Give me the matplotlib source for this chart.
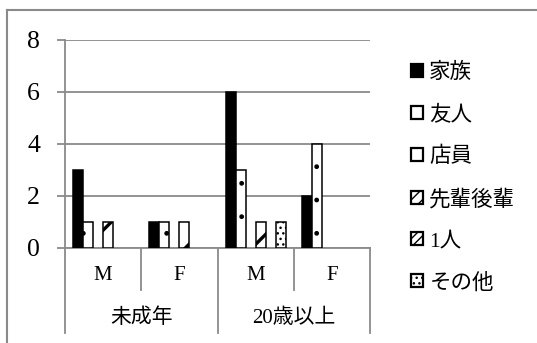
import matplotlib
matplotlib.use("Agg")
import matplotlib.pyplot as plt
from matplotlib.lines import Line2D
from matplotlib.patches import Patch
from matplotlib.transforms import blended_transform_factory
import numpy as np

# ---- data -------------------------------------------------------------
age_groups = ["未成年", "20歳以上"]
sexes = ["M", "F", "M", "F"]
series_names = ["家族", "友人", "店員", "先輩後輩", "1人", "その他"]
family = [3, 1, 6, 2]
friend = [1, 1, 3, 4]
clerk = [0, 0, 0, 0]
senpai_kohai = [1, 1, 1, 0]
alone = [0, 0, 0, 0]
other = [0, 0, 1, 0]
y_ticks = [0, 2, 4, 6, 8]

series_values = [family, friend, clerk, senpai_kohai, alone, other]

# ---- style ------------------------------------------------------------
GRAY = "#8a8a8a"
SERIF = ["Liberation Serif", "Noto Sans CJK JP"]
CJK = ["Liberation Serif", "Noto Sans CJK JP"]
fills = ["black", "white", "white", "white", "white", "white"]
hatches = [None, ".", None, "/", "///", "..."]
hatch_lw = [1.0, 1.0, 1.0, 2.4, 1.2, 1.0]
# legend swatches are tiny, so they use denser versions of the fills
legend_hatches = [None, None, None, "///", "////", "..."]
legend_hatch_lw = [1.0, 1.0, 1.0, 3.0, 1.4, 1.0]

W, H, DPI = 537, 343, 100
fig = plt.figure(figsize=(W / DPI, H / DPI), dpi=DPI)

# plot area in pixel coordinates
left_px, right_px, top_px, base_px = 65, 370, 40, 248
ax = fig.add_axes([left_px / W, 1 - base_px / H,
                   (right_px - left_px) / W, (base_px - top_px) / H])
ax_h = base_px - top_px

x = np.arange(len(sexes))
n = len(series_names)
bar_w = 0.131
offsets = (np.arange(n) - (n - 1) / 2) * bar_w


def set_hlw(p, lw):
    if hasattr(p, "set_hatch_linewidth"):
        p.set_hatch_linewidth(lw)


handles = []
for i, (name, vals) in enumerate(zip(series_names, series_values)):
    bars = ax.bar(x + offsets[i], vals, width=bar_w, color=fills[i],
                  edgecolor="black", linewidth=1.1, hatch=hatches[i],
                  label=name, zorder=3)
    for p, v in zip(bars.patches, vals):
        set_hlw(p, hatch_lw[i])
        if v == 0:
            p.set_visible(False)
    h = Patch(facecolor=fills[i], edgecolor="black", linewidth=1.6,
              hatch=legend_hatches[i])
    set_hlw(h, legend_hatch_lw[i])
    handles.append(h)

ax.set_xlim(-0.5, len(sexes) - 0.5)
ax.set_ylim(0, 8)
ax.set_yticks(y_ticks)
ax.set_yticklabels([str(t) for t in y_ticks], fontfamily=SERIF, fontsize=18.5)
ax.tick_params(axis="y", length=8 * 72 / DPI, width=1.3, color=GRAY,
               pad=17 * 72 / DPI)
ax.set_xticks([])
ax.yaxis.grid(True, color=GRAY, linewidth=1.3, zorder=0)
for s in ["top", "right"]:
    ax.spines[s].set_visible(False)
for s in ["left", "bottom"]:
    ax.spines[s].set_color(GRAY)
    ax.spines[s].set_linewidth(1.3)

# ---- two-level category axis -------------------------------------------
tr = blended_transform_factory(ax.transData, ax.transAxes)
outer_drop = -85 / ax_h
inner_drop = -42 / ax_h
for xb in [-0.5, 1.5, 3.5]:
    ax.add_line(Line2D([xb, xb], [0, outer_drop], transform=tr, color=GRAY,
                       linewidth=1.3, clip_on=False))
for xb in [0.5, 2.5]:
    ax.add_line(Line2D([xb, xb], [0, inner_drop], transform=tr, color=GRAY,
                       linewidth=1.3, clip_on=False))

for xi, s in zip(x, sexes):
    ax.text(xi, -28 / ax_h, s, transform=tr, ha="center", va="center",
            fontfamily=SERIF, fontsize=15)
for gi, g in enumerate(age_groups):
    ax.text(2 * gi + 0.5, -70 / ax_h, g, transform=tr, ha="center",
            va="center", fontfamily=CJK, fontsize=15)

# ---- legend ------------------------------------------------------------
fig.legend(handles, series_names, loc="upper left",
           bbox_to_anchor=(411 / W, 1 - 63 / H),
           frameon=False, handlelength=0.55, handleheight=0.55,
           handletextpad=0.3, labelspacing=1.02, borderpad=0,
           borderaxespad=0, prop={"family": CJK, "size": 15.5})

# ---- chart frame ---------------------------------------------------------
fig.add_artist(Line2D([7 / W, 7 / W], [0, 1 - 10 / H], transform=fig.transFigure,
                      color=GRAY, linewidth=1.5))
fig.add_artist(Line2D([7 / W, 1], [1 - 10 / H, 1 - 10 / H],
                      transform=fig.transFigure, color=GRAY, linewidth=1.5))

fig.savefig("out.png", dpi=DPI)
